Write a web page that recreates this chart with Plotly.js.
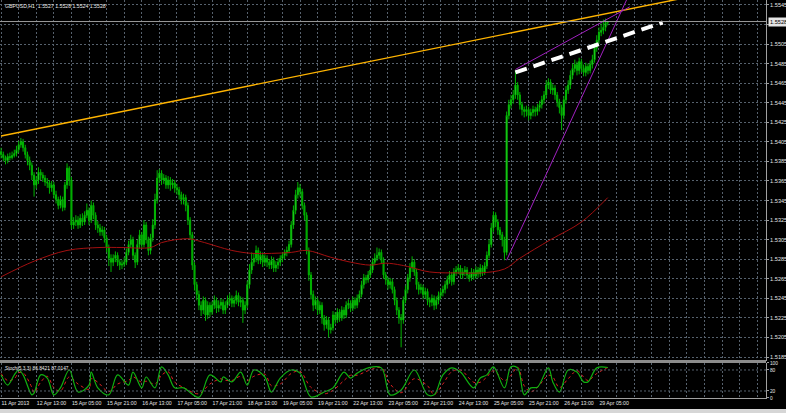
<!DOCTYPE html>
<html><head><meta charset="utf-8">
<script src="https://cdn.plot.ly/plotly-3.0.1.min.js"></script>
<style>html,body{margin:0;padding:0;background:#000;}#chart{width:786px;height:413px;}</style>
</head><body><div id="chart"></div>
<script>
const tickLabels = ['11 Apr 2013','12 Apr 13:00','15 Apr 05:00','15 Apr 21:00','16 Apr 13:00','17 Apr 05:00','17 Apr 21:00','18 Apr 13:00','19 Apr 05:00','19 Apr 21:00','22 Apr 13:00','23 Apr 05:00','23 Apr 21:00','24 Apr 13:00','25 Apr 05:00','25 Apr 21:00','26 Apr 13:00','29 Apr 05:00'];
const priceTicks = [1.5185,1.5205,1.5225,1.5245,1.5265,1.5285,1.5305,1.5325,1.5345,1.5365,1.5385,1.5405,1.5425,1.5445,1.5465,1.5485,1.5505,1.5525,1.5545];
const hiddenTick = '1.5525';

const open = [
1.5395,1.5392,1.5389,1.5386,1.5390,1.5389,1.5391,1.5393,1.5397,1.5402,
1.5405,1.5399,1.5392,1.5386,1.5381,1.5371,1.5361,1.5366,1.5374,1.5371,
1.5368,1.5364,1.5363,1.5358,1.5361,1.5351,1.5346,1.5340,1.5346,1.5338,
1.5361,1.5378,1.5366,1.5320,1.5323,1.5325,1.5320,1.5327,1.5323,1.5330,
1.5335,1.5325,1.5340,1.5330,1.5320,1.5317,1.5313,1.5315,1.5307,1.5297,
1.5286,1.5282,1.5286,1.5289,1.5282,1.5279,1.5280,1.5282,1.5292,1.5300,
1.5305,1.5289,1.5282,1.5300,1.5310,1.5300,1.5320,1.5305,1.5294,1.5307,
1.5320,1.5346,1.5368,1.5373,1.5366,1.5368,1.5361,1.5366,1.5361,1.5363,
1.5358,1.5356,1.5351,1.5346,1.5348,1.5340,1.5325,1.5310,1.5279,1.5259,
1.5249,1.5238,1.5233,1.5243,1.5228,1.5238,1.5231,1.5238,1.5243,1.5235,
1.5238,1.5241,1.5233,1.5238,1.5243,1.5245,1.5240,1.5243,1.5248,1.5241,
1.5243,1.5233,1.5238,1.5259,1.5274,1.5282,1.5286,1.5294,1.5284,1.5289,
1.5282,1.5286,1.5282,1.5279,1.5284,1.5276,1.5279,1.5282,1.5286,1.5289,
1.5292,1.5294,1.5300,1.5320,1.5335,1.5351,1.5358,1.5354,1.5340,1.5330,
1.5294,1.5269,1.5249,1.5238,1.5243,1.5233,1.5238,1.5225,1.5218,1.5223,
1.5213,1.5215,1.5228,1.5223,1.5231,1.5225,1.5233,1.5228,1.5238,1.5240,
1.5235,1.5243,1.5238,1.5245,1.5249,1.5259,1.5266,1.5264,1.5269,1.5274,
1.5282,1.5286,1.5289,1.5292,1.5284,1.5269,1.5264,1.5259,1.5262,1.5254,
1.5243,1.5233,1.5225,1.5223,1.5243,1.5254,1.5266,1.5276,1.5282,1.5272,
1.5259,1.5254,1.5256,1.5249,1.5252,1.5243,1.5241,1.5245,1.5238,1.5243,
1.5248,1.5251,1.5254,1.5259,1.5264,1.5269,1.5262,1.5272,1.5274,1.5276,
1.5269,1.5272,1.5274,1.5269,1.5266,1.5272,1.5268,1.5274,1.5270,1.5276,
1.5272,1.5278,1.5289,1.5300,1.5317,1.5330,1.5323,1.5315,1.5310,1.5305,
1.5292,1.5432,1.5443,1.5448,1.5453,1.5463,1.5453,1.5443,1.5438,1.5436,
1.5438,1.5432,1.5435,1.5438,1.5436,1.5440,1.5443,1.5448,1.5453,1.5463,
1.5466,1.5458,1.5460,1.5453,1.5446,1.5440,1.5432,1.5448,1.5458,1.5463,
1.5473,1.5480,1.5484,1.5478,1.5487,1.5480,1.5476,1.5482,1.5478,1.5484,
1.5489,1.5501,1.5509,1.5517,1.5519,1.5522,1.5527];

const high = [
1.5399,1.5395,1.5391,1.5393,1.5394,1.5395,1.5397,1.5401,1.5406,1.5409,
1.5408,1.5402,1.5395,1.5390,1.5384,1.5374,1.5370,1.5379,1.5377,1.5374,
1.5371,1.5368,1.5366,1.5365,1.5364,1.5355,1.5349,1.5350,1.5349,1.5364,
1.5383,1.5380,1.5369,1.5328,1.5330,1.5329,1.5331,1.5332,1.5334,1.5342,
1.5338,1.5345,1.5343,1.5333,1.5324,1.5321,1.5319,1.5318,1.5310,1.5300,
1.5290,1.5290,1.5293,1.5292,1.5285,1.5284,1.5287,1.5296,1.5304,1.5310,
1.5308,1.5292,1.5305,1.5315,1.5313,1.5325,1.5323,1.5308,1.5311,1.5326,
1.5352,1.5376,1.5377,1.5376,1.5372,1.5371,1.5370,1.5369,1.5367,1.5366,
1.5362,1.5359,1.5354,1.5352,1.5351,1.5343,1.5328,1.5313,1.5282,1.5262,
1.5253,1.5242,1.5247,1.5246,1.5242,1.5241,1.5242,1.5248,1.5246,1.5243,
1.5245,1.5244,1.5242,1.5248,1.5250,1.5248,1.5247,1.5253,1.5251,1.5247,
1.5246,1.5242,1.5263,1.5280,1.5292,1.5291,1.5299,1.5297,1.5293,1.5292,
1.5290,1.5289,1.5285,1.5288,1.5287,1.5283,1.5286,1.5289,1.5292,1.5295,
1.5298,1.5304,1.5324,1.5340,1.5356,1.5364,1.5362,1.5357,1.5343,1.5333,
1.5297,1.5272,1.5253,1.5247,1.5246,1.5242,1.5241,1.5228,1.5227,1.5226,
1.5219,1.5232,1.5231,1.5235,1.5234,1.5237,1.5236,1.5242,1.5244,1.5243,
1.5247,1.5246,1.5249,1.5253,1.5263,1.5270,1.5269,1.5273,1.5279,1.5286,
1.5291,1.5297,1.5296,1.5295,1.5287,1.5272,1.5267,1.5266,1.5265,1.5257,
1.5246,1.5236,1.5229,1.5247,1.5258,1.5270,1.5281,1.5288,1.5285,1.5275,
1.5262,1.5260,1.5259,1.5256,1.5255,1.5246,1.5249,1.5248,1.5247,1.5252,
1.5255,1.5258,1.5263,1.5268,1.5273,1.5272,1.5276,1.5278,1.5280,1.5279,
1.5276,1.5278,1.5277,1.5272,1.5276,1.5275,1.5278,1.5277,1.5280,1.5279,
1.5282,1.5293,1.5305,1.5322,1.5334,1.5333,1.5326,1.5318,1.5313,1.5308,
1.5436,1.5448,1.5453,1.5458,1.5478,1.5466,1.5456,1.5446,1.5441,1.5442,
1.5441,1.5439,1.5442,1.5441,1.5444,1.5447,1.5452,1.5457,1.5468,1.5470,
1.5469,1.5464,1.5463,1.5456,1.5449,1.5443,1.5452,1.5462,1.5468,1.5478,
1.5485,1.5489,1.5487,1.5491,1.5490,1.5484,1.5486,1.5485,1.5488,1.5494,
1.5506,1.5514,1.5522,1.5526,1.5530,1.5531,1.5528];

const low = [
1.5388,1.5385,1.5382,1.5383,1.5386,1.5387,1.5389,1.5390,1.5394,1.5399,
1.5395,1.5388,1.5381,1.5376,1.5366,1.5349,1.5357,1.5362,1.5366,1.5364,
1.5360,1.5358,1.5352,1.5354,1.5347,1.5342,1.5336,1.5337,1.5334,1.5335,
1.5357,1.5360,1.5316,1.5316,1.5319,1.5316,1.5317,1.5319,1.5320,1.5327,
1.5320,1.5322,1.5326,1.5315,1.5312,1.5309,1.5309,1.5302,1.5292,1.5278,
1.5272,1.5278,1.5282,1.5278,1.5274,1.5275,1.5277,1.5279,1.5289,1.5297,
1.5285,1.5276,1.5279,1.5296,1.5296,1.5297,1.5301,1.5289,1.5290,1.5303,
1.5316,1.5342,1.5363,1.5361,1.5362,1.5357,1.5357,1.5355,1.5357,1.5353,
1.5351,1.5346,1.5341,1.5341,1.5334,1.5320,1.5305,1.5274,1.5253,1.5243,
1.5233,1.5227,1.5229,1.5222,1.5224,1.5226,1.5228,1.5234,1.5230,1.5231,
1.5234,1.5229,1.5229,1.5235,1.5239,1.5236,1.5236,1.5239,1.5237,1.5236,
1.5220,1.5229,1.5235,1.5255,1.5270,1.5278,1.5282,1.5280,1.5280,1.5277,
1.5278,1.5277,1.5275,1.5275,1.5272,1.5272,1.5275,1.5278,1.5282,1.5285,
1.5288,1.5291,1.5297,1.5316,1.5331,1.5347,1.5349,1.5336,1.5325,1.5290,
1.5263,1.5244,1.5232,1.5234,1.5228,1.5229,1.5219,1.5212,1.5214,1.5205,
1.5209,1.5212,1.5219,1.5220,1.5221,1.5222,1.5224,1.5225,1.5234,1.5231,
1.5232,1.5234,1.5235,1.5241,1.5246,1.5255,1.5260,1.5261,1.5266,1.5271,
1.5279,1.5283,1.5285,1.5280,1.5265,1.5259,1.5254,1.5255,1.5250,1.5238,
1.5228,1.5219,1.5195,1.5219,1.5240,1.5250,1.5262,1.5272,1.5268,1.5254,
1.5249,1.5250,1.5244,1.5245,1.5238,1.5236,1.5237,1.5233,1.5234,1.5239,
1.5244,1.5247,1.5250,1.5255,1.5260,1.5258,1.5259,1.5268,1.5270,1.5265,
1.5265,1.5268,1.5265,1.5262,1.5263,1.5264,1.5265,1.5266,1.5267,1.5268,
1.5269,1.5275,1.5286,1.5297,1.5313,1.5318,1.5310,1.5305,1.5298,1.5284,
1.5289,1.5428,1.5439,1.5444,1.5449,1.5448,1.5438,1.5432,1.5430,1.5431,
1.5427,1.5428,1.5431,1.5431,1.5432,1.5436,1.5439,1.5444,1.5449,1.5459,
1.5454,1.5453,1.5448,1.5441,1.5434,1.5417,1.5428,1.5444,1.5454,1.5459,
1.5469,1.5476,1.5473,1.5474,1.5476,1.5472,1.5472,1.5474,1.5475,1.5480,
1.5486,1.5497,1.5505,1.5513,1.5515,1.5518,1.5524];

const close = [
1.5392,1.5389,1.5386,1.5390,1.5389,1.5391,1.5393,1.5397,1.5402,1.5405,
1.5399,1.5392,1.5386,1.5381,1.5371,1.5361,1.5366,1.5374,1.5371,1.5368,
1.5364,1.5363,1.5358,1.5361,1.5351,1.5346,1.5340,1.5346,1.5338,1.5361,
1.5378,1.5366,1.5320,1.5323,1.5325,1.5320,1.5327,1.5323,1.5330,1.5335,
1.5325,1.5340,1.5330,1.5320,1.5317,1.5313,1.5315,1.5307,1.5297,1.5286,
1.5282,1.5286,1.5289,1.5282,1.5279,1.5280,1.5282,1.5292,1.5300,1.5305,
1.5289,1.5282,1.5300,1.5310,1.5300,1.5320,1.5305,1.5294,1.5307,1.5320,
1.5346,1.5368,1.5373,1.5366,1.5368,1.5361,1.5366,1.5361,1.5363,1.5358,
1.5356,1.5351,1.5346,1.5348,1.5340,1.5325,1.5310,1.5279,1.5259,1.5249,
1.5238,1.5233,1.5243,1.5228,1.5238,1.5231,1.5238,1.5243,1.5235,1.5238,
1.5241,1.5233,1.5238,1.5243,1.5245,1.5240,1.5243,1.5248,1.5241,1.5243,
1.5233,1.5238,1.5259,1.5274,1.5282,1.5286,1.5294,1.5284,1.5289,1.5282,
1.5286,1.5282,1.5279,1.5284,1.5276,1.5279,1.5282,1.5286,1.5289,1.5292,
1.5294,1.5300,1.5320,1.5335,1.5351,1.5358,1.5354,1.5340,1.5330,1.5294,
1.5269,1.5249,1.5238,1.5243,1.5233,1.5238,1.5225,1.5218,1.5223,1.5213,
1.5215,1.5228,1.5223,1.5231,1.5225,1.5233,1.5228,1.5238,1.5240,1.5235,
1.5243,1.5238,1.5245,1.5249,1.5259,1.5266,1.5264,1.5269,1.5274,1.5282,
1.5286,1.5289,1.5292,1.5284,1.5269,1.5264,1.5259,1.5262,1.5254,1.5243,
1.5233,1.5225,1.5223,1.5243,1.5254,1.5266,1.5276,1.5282,1.5272,1.5259,
1.5254,1.5256,1.5249,1.5252,1.5243,1.5241,1.5245,1.5238,1.5243,1.5248,
1.5251,1.5254,1.5259,1.5264,1.5269,1.5262,1.5272,1.5274,1.5276,1.5269,
1.5272,1.5274,1.5269,1.5266,1.5272,1.5268,1.5274,1.5270,1.5276,1.5272,
1.5278,1.5289,1.5300,1.5317,1.5330,1.5323,1.5315,1.5310,1.5305,1.5292,
1.5432,1.5443,1.5448,1.5453,1.5463,1.5453,1.5443,1.5438,1.5436,1.5438,
1.5432,1.5435,1.5438,1.5436,1.5440,1.5443,1.5448,1.5453,1.5463,1.5466,
1.5458,1.5460,1.5453,1.5446,1.5440,1.5432,1.5448,1.5458,1.5463,1.5473,
1.5480,1.5484,1.5478,1.5487,1.5480,1.5476,1.5482,1.5478,1.5484,1.5489,
1.5501,1.5509,1.5517,1.5519,1.5522,1.5527,1.5528];

const maBar = [0,15,30,45,55,68,73,85,91,105,114,123,132,139,150,159,168,175,182,186,195,209,218,229,236,250,264,276];
const maVal = [1.5267,1.5283,1.5294,1.5297,1.5297,1.5297,1.5302,1.5306,1.5303,1.5294,1.5291,1.5291,1.5292,1.5294,1.5287,1.5282,1.5279,1.5281,1.5279,1.5277,1.5272,1.5271,1.5271,1.5275,1.5286,1.5305,1.5323,1.5348];

const stochBar = [0,3,6,8,10,14,15,18,21,24,27,31,35,40,41,44,49,53,58,60,64,66,70,73,76,79,83,90,95,100,101,105,109,112,115,120,123,127,132,136,141,147,151,156,159,162,167,173,177,182,188,194,197,201,205,209,215,218,221,224,229,232,235,238,241,244,249,251,254,258,262,265,267,271,276];
const stochMain = [66,37,66,80,66,9,14,66,57,9,29,80,17,37,74,29,9,66,37,74,29,60,29,89,66,29,29,2,66,46,60,46,74,37,80,60,17,57,80,71,3,17,29,74,57,71,86,86,9,23,80,9,9,66,86,74,29,57,66,89,29,89,86,9,29,31,86,46,17,80,74,46,46,86,87];
const stochSignal = [70,50,55,72,72,30,15,45,62,30,20,60,40,25,55,45,18,40,50,60,45,48,40,65,75,45,30,12,40,55,52,50,62,50,62,68,35,40,70,76,30,12,22,50,65,65,78,86,40,15,55,35,10,40,75,80,45,45,60,78,50,65,88,35,18,30,65,60,30,55,78,60,50,70,87];

const orangeBar = [0, 348], orangePrice = [1.5411, 1.5569];
const magentaUpBar = [234, 286], magentaUpPrice = [1.5479, 1.5543];
const magentaSteepBar = [230, 287], magentaSteepPrice = [1.5284, 1.5562];
const whiteBar = [234, 301], whitePrice = [1.5476, 1.5527];
const lastPrice = 1.5528;
const header = 'GBPUSD,H1  1.5527 1.5528 1.5524 1.5528';
const stochLabel = 'Stoch(5,3,3) 86.8421 87.0147';

const idx = close.map((_, i) => i);
const gridVals = [], gridText = [];
for (let k = 0; k <= 344; k += 8) {
  gridVals.push(k);
  gridText.push(k % 16 === 0 && tickLabels[k / 16] ? tickLabels[k / 16] : '');
}
const GRID = '#56616d';
const FONT = 'Liberation Sans, Arial, sans-serif';

const traces = [
  {type:'candlestick', x:idx, open:open, high:high, low:low, close:close, xaxis:'x', yaxis:'y',
   increasing:{line:{color:'#00b400', width:1}, fillcolor:'#5cff5c'},
   decreasing:{line:{color:'#00b400', width:1}, fillcolor:'#00a000'},
   whiskerwidth:0, hoverinfo:'skip'},
  {type:'scatter', mode:'lines', x:maBar, y:maVal, line:{color:'#a31010', width:1, shape:'spline'}, xaxis:'x', yaxis:'y', hoverinfo:'skip'},
  {type:'scatter', mode:'lines', x:orangeBar, y:orangePrice, line:{color:'#ffb400', width:1.4}, xaxis:'x', yaxis:'y', hoverinfo:'skip'},
  {type:'scatter', mode:'lines', x:magentaUpBar, y:magentaUpPrice, line:{color:'#a020c0', width:1}, xaxis:'x', yaxis:'y', hoverinfo:'skip'},
  {type:'scatter', mode:'lines', x:magentaSteepBar, y:magentaSteepPrice, line:{color:'#a020c0', width:1}, xaxis:'x', yaxis:'y', hoverinfo:'skip'},
  {type:'scatter', mode:'lines', x:whiteBar, y:whitePrice, line:{color:'#ffffff', width:4, dash:'12px,7px'}, xaxis:'x', yaxis:'y', hoverinfo:'skip'},
  {type:'scatter', mode:'lines', x:stochBar, y:stochSignal, line:{color:'#e02020', width:1, dash:'dot', shape:'spline'}, xaxis:'x', yaxis:'y2', hoverinfo:'skip'},
  {type:'scatter', mode:'lines', x:stochBar, y:stochMain, line:{color:'#10b010', width:1.2, shape:'spline'}, xaxis:'x', yaxis:'y2', hoverinfo:'skip'}
];

const layout = {
  width:786, height:413,
  paper_bgcolor:'#000000', plot_bgcolor:'#000000',
  margin:{l:0, r:20, t:0, b:15, pad:0},
  showlegend:false,
  font:{family:FONT, size:5.2, color:'#e6e6e6'},
  xaxis:{range:[-0.5,348], anchor:'y2', tickvals:gridVals, ticktext:gridText, tickangle:0,
         ticklabelposition:'outside right', showgrid:true, gridcolor:GRID, griddash:'2px,2px', gridwidth:1,
         zeroline:false, showline:true, linecolor:'#a0a0a0', ticks:'', tickfont:{size:5.2, color:'#e6e6e6'},
         rangeslider:{visible:false}, fixedrange:true},
  yaxis:{domain:[0.093,1], range:[1.5181,1.5550], side:'right', tickvals:priceTicks,
         ticktext:priceTicks.map(v => v.toFixed(4) === hiddenTick ? '' : v.toFixed(4)), showgrid:true, gridcolor:GRID, griddash:'2px,2px', gridwidth:1,
         zeroline:false, showline:true, linecolor:'#a0a0a0', ticks:'outside', ticklen:2, tickcolor:'#a0a0a0',
         ticklabelstandoff:0, tickfont:{size:5.6, color:'#e6e6e6'}, fixedrange:true},
  yaxis2:{domain:[0,0.088], range:[0,100], side:'right', tickvals:[0,20,80,100], ticktext:['0','20','80','100'],
          showgrid:false, zeroline:false, showline:true, linecolor:'#a0a0a0', ticks:'outside', ticklen:2,
          ticklabelstandoff:0, tickcolor:'#a0a0a0', tickfont:{size:4.8, color:'#e6e6e6'}, fixedrange:true},
  shapes:[
    {type:'line', xref:'paper', x0:0, x1:1, yref:'y2', y0:20, y1:20, line:{color:GRID, width:1, dash:'2px,2px'}},
    {type:'line', xref:'paper', x0:0, x1:1, yref:'y2', y0:80, y1:80, line:{color:GRID, width:1, dash:'2px,2px'}},
    {type:'rect', xref:'paper', x0:0, x1:1, yref:'paper', y0:0.0879, y1:0.0955, fillcolor:'#8c8c8c', line:{width:0}},
    {type:'line', xref:'paper', x0:0, x1:1, yref:'y', y0:lastPrice, y1:lastPrice, line:{color:'#9a9a9a', width:1}},
    {type:'rect', xref:'paper', x0:0, x1:1.027, yref:'paper', y0:-0.04, y1:-0.0276, fillcolor:'#d6d6d6', line:{width:0}}
  ],
  annotations:[
    {xref:'paper', yref:'paper', x:0.004, y:0.985, xanchor:'left', yanchor:'middle', text:header, showarrow:false, font:{size:5.2, color:'#e8e8e8', family:FONT}},
    {xref:'paper', yref:'paper', x:0.004, y:0.074, xanchor:'left', yanchor:'middle', text:stochLabel, showarrow:false, font:{size:4.8, color:'#e8e8e8', family:FONT}},
    {xref:'paper', yref:'y', x:1.002, y:lastPrice, xanchor:'left', yanchor:'middle', text:lastPrice.toFixed(4), showarrow:false,
     bgcolor:'#e4e4e4', borderpad:1, font:{size:5.6, color:'#000000', family:FONT}}
  ]
};

Plotly.newPlot('chart', traces, layout, {staticPlot:true, displayModeBar:false});
</script>
</body></html>
